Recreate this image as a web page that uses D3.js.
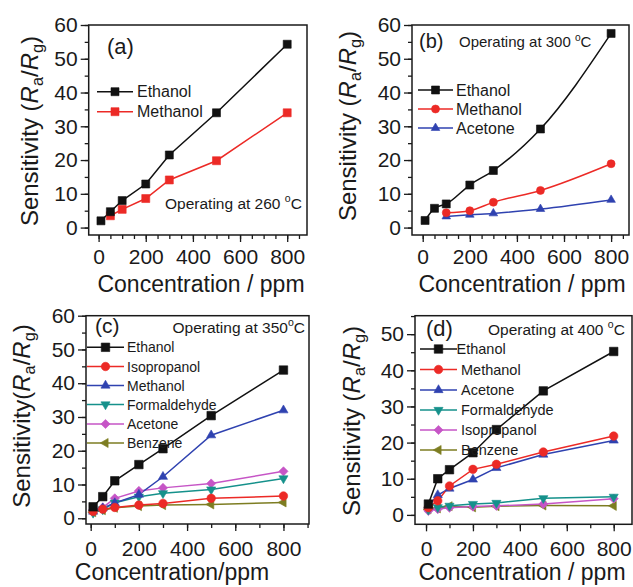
<!DOCTYPE html>
<html><head><meta charset="utf-8">
<script src="https://cdn.jsdelivr.net/npm/d3@7"></script>
<style>body{margin:0;background:#fff} svg{display:block}</style>
</head><body><svg id="c" width="633" height="587"></svg>
<script>
// ---------------- DATA ----------------
const conc = [10, 50, 100, 200, 300, 500, 800];
const concAMethanol = [50, 100, 200, 300, 500, 800];
const concBPartial = [100, 200, 300, 500, 800];
const xTickLabels = [0, 200, 400, 600, 800];
const yTickLabels60 = [0, 10, 20, 30, 40, 50, 60];
const yTickLabels50 = [0, 10, 20, 30, 40, 50];

// (a) 260 °C
const aNames = ["Ethanol", "Methanol"];
const aEthanol = [2.0, 4.7, 8.0, 12.9, 21.5, 34.0, 54.3];
const aMethanol = [3.5, 5.4, 8.6, 14.1, 19.8, 34.0];

// (b) 300 °C
const bNames = ["Ethanol", "Methanol", "Acetone"];
const bEthanol = [2.1, 5.7, 7.0, 12.6, 16.9, 29.2, 57.5];
const bMethanol = [4.4, 5.0, 7.5, 11.0, 18.9];
const bAcetone = [3.3, 3.8, 4.2, 5.5, 8.2];

// (c) 350 °C
const cNames = ["Ethanol", "Isopropanol", "Methanol", "Formaldehyde", "Acetone", "Benzene"];
const cEthanol = [3.4, 6.4, 11.1, 15.9, 20.6, 30.4, 43.9];
const cIsopropanol = [2.0, 2.7, 3.2, 3.9, 4.4, 5.9, 6.6];
const cMethanol = [2.0, 3.0, 4.5, 7.0, 12.3, 24.6, 32.0];
const cFormaldehyde = [1.6, 2.6, 4.6, 6.4, 7.4, 8.5, 11.8];
const cAcetone = [2.5, 3.2, 5.9, 8.1, 9.0, 10.3, 13.9];
const cBenzene = [1.8, 2.4, 3.1, 3.6, 3.9, 4.1, 4.7];

// (d) 400 °C
const dNames = ["Ethanol", "Methanol", "Acetone", "Formaldehyde", "Isopropanol", "Benzene"];
const dEthanol = [3.0, 10.0, 12.5, 17.2, 23.6, 34.3, 45.2];
const dMethanol = [2.0, 3.9, 8.0, 12.6, 14.0, 17.4, 21.8];
const dAcetone = [2.5, 5.5, 7.3, 9.8, 13.0, 16.7, 20.6];
const dFormaldehyde = [1.4, 2.1, 2.5, 3.0, 3.3, 4.6, 5.0];
const dIsopropanol = [1.1, 1.6, 2.0, 2.3, 2.5, 3.0, 4.5];
const dBenzene = [1.5, 1.8, 2.4, 2.1, 2.4, 2.6, 2.5];

// ---------------- STYLE ----------------
const FONT = '"Liberation Sans", Arial, Helvetica, sans-serif';
const COL = {black:"#111111", red:"#ec2a26", blue:"#2f42b0", teal:"#15918b", magenta:"#c655c6", olive:"#7d7d22"};
const svg = d3.select("#c").style("font-family", FONT);

function zipS(xs, ys){ return xs.map((x,i)=>({x, y: ys[i]})); }

function shapeOf(shape, s){
  switch(shape){
    case "square":  return {d: d3.symbol(d3.symbolSquare, s*s)(), r: 0};
    case "circle":  return {d: d3.symbol(d3.symbolCircle, Math.PI*(s/2)*(s/2))(), r: 0};
    case "up":      return {d: d3.symbol(d3.symbolTriangle, s*s*0.5)(), r: 0};
    case "down":    return {d: d3.symbol(d3.symbolTriangle, s*s*0.5)(), r: 180};
    case "left":    return {d: d3.symbol(d3.symbolTriangle, s*s*0.5)(), r: -90};
    case "diamond": return {d: d3.symbol(d3.symbolSquare, s*s*0.58)(), r: 45};
  }
}

function marker(g, shape, s, color, cx, cy){
  const sp = shapeOf(shape, s);
  g.append("path").attr("d", sp.d)
    .attr("transform", `translate(${cx},${cy}) rotate(${sp.r})`)
    .attr("fill", color).attr("stroke", color).attr("stroke-width", 0.6);
}

function range(a, b, step){ const r=[]; for(let v=a; v<=b+1e-9; v+=step) r.push(v); return r; }

function tempText(g, x, y, pre, post, size, anchor){
  const t = g.append("text").attr("x", x).attr("y", y).attr("font-size", size)
    .attr("fill", "#1a1a1a").attr("text-anchor", anchor || "start");
  t.append("tspan").text(pre);
  t.append("tspan").attr("dy", -size*0.42).attr("font-size", size*0.68).text("o");
  t.append("tspan").attr("dy", size*0.42).text(post);
}

function yTitle(g, x, y, size, space){
  const t = g.append("text").attr("transform", `translate(${x},${y}) rotate(-90)`)
    .attr("text-anchor", "middle").attr("font-size", size).attr("fill", "#1a1a1a");
  t.append("tspan").text(space ? "Sensitivity (" : "Sensitivity(");
  t.append("tspan").attr("font-style", "italic").text("R");
  t.append("tspan").attr("font-size", size*0.68).attr("dy", size*0.22).text("a");
  t.append("tspan").attr("dy", -size*0.22).text("/");
  t.append("tspan").attr("font-style", "italic").text("R");
  t.append("tspan").attr("font-size", size*0.68).attr("dy", size*0.22).text("g");
  t.append("tspan").attr("dy", -size*0.22).text(")");
}

function drawPanel(p){
  const g = svg.append("g");
  const x = d3.scaleLinear().domain(p.xd).range([p.x0, p.x1]);
  const y = d3.scaleLinear().domain(p.yd).range([p.y1, p.y0]);

  const gx1 = g.append("g").attr("transform", `translate(0,${p.y1})`)
    .call(d3.axisBottom(x).tickValues(p.xMinor).tickSize(4).tickFormat(""));
  const gx2 = g.append("g").attr("transform", `translate(0,${p.y1})`)
    .call(d3.axisBottom(x).tickValues(xTickLabels).tickSize(7).tickPadding(p.xPad).tickFormat(d3.format("d")));
  const gy1 = g.append("g").attr("transform", `translate(${p.x0},0)`)
    .call(d3.axisLeft(y).tickValues(p.yMinor).tickSize(4).tickFormat(""));
  const gy2 = g.append("g").attr("transform", `translate(${p.x0},0)`)
    .call(d3.axisLeft(y).tickValues(p.yTicks).tickSize(8).tickPadding(3).tickFormat(d3.format("d")));
  [gx1,gx2,gy1,gy2].forEach(a=>{
    a.select(".domain").remove();
    a.selectAll("line").attr("stroke", "#1a1a1a").attr("stroke-width", 1.3);
    a.selectAll("text").attr("font-family", FONT).attr("font-size", p.tickSize).attr("fill", "#1a1a1a");
  });
  gx2.selectAll("text").attr("dy", "0.71em");

  const ser = p.series.slice().reverse();
  ser.forEach(s=>{
    const pts = zipS(s.xs, s.ys);
    const line = d3.line().x(d=>x(d.x)).y(d=>y(d.y)).curve(p.curve || d3.curveLinear);
    g.append("path").attr("d", line(pts)).attr("fill", "none")
      .attr("stroke", s.color).attr("stroke-width", 1.5);
  });
  ser.forEach(s=>{
    zipS(s.xs, s.ys).forEach(d=> marker(g, s.shape, p.mSize, s.color, x(d.x), y(d.y)));
  });

  g.append("rect").attr("x", p.x0).attr("y", p.y0).attr("width", p.x1-p.x0).attr("height", p.y1-p.y0)
    .attr("fill", "none").attr("stroke", "#1a1a1a").attr("stroke-width", 1.5);

  p.series.forEach((s,i)=>{
    const ly = p.leg.y[i];
    g.append("line").attr("x1", p.leg.x1).attr("x2", p.leg.x2).attr("y1", ly).attr("y2", ly)
      .attr("stroke", s.color).attr("stroke-width", 1.5);
    marker(g, s.shape, p.mSize, s.color, (p.leg.x1+p.leg.x2)/2, ly);
    g.append("text").attr("x", p.leg.tx[i] !== undefined ? p.leg.tx[i] : p.leg.tx0).attr("y", ly)
      .attr("dy", "0.36em").attr("font-size", p.leg.size).attr("fill", "#1a1a1a").text(s.name);
  });

  g.append("text").attr("x", p.tag.x).attr("y", p.tag.y).attr("font-size", p.tag.size)
    .attr("fill", "#1a1a1a").text(p.tag.t);
  tempText(g, p.temp.x, p.temp.y, p.temp.pre, "C", p.temp.size, p.temp.anchor);
  yTitle(g, p.yt.x, p.yt.y, p.yt.size, p.yt.space);
  g.append("text").attr("x", p.xt.x).attr("y", p.xt.y).attr("text-anchor", "middle")
    .attr("font-size", p.xt.size).attr("fill", "#1a1a1a").text(p.xt.t);
}

// ---------------- PANELS ----------------
drawPanel({
  x0: 88.7, x1: 307, y0: 25, y1: 235, xd: [-42, 884], yd: [-2.2, 60],
  xMinor: range(0, 850, 50), yMinor: range(0, 60, 5), yTicks: yTickLabels60,
  xPad: 7, tickSize: 21, mSize: 8,
  series: [
    {name: aNames[0], xs: conc, ys: aEthanol, color: COL.black, shape: "square"},
    {name: aNames[1], xs: concAMethanol, ys: aMethanol, color: COL.red, shape: "square"}
  ],
  leg: {x1: 97, x2: 133, y: [91.7, 111.7], tx0: 137, tx: [], size: 16},
  tag: {x: 107, y: 54, size: 22, t: "(a)"},
  temp: {x: 165, y: 209, pre: "Operating at 260 ", size: 15.5},
  yt: {x: 38, y: 131, size: 24, space: true},
  xt: {x: 201, y: 292, size: 23, t: "Concentration / ppm"}
});

drawPanel({
  x0: 412, x1: 629, y0: 25, y1: 235, xd: [-45.5, 876], yd: [-2.2, 60],
  xMinor: range(0, 850, 50), yMinor: range(0, 60, 5), yTicks: yTickLabels60,
  xPad: 7, tickSize: 21, mSize: 8, curve: d3.curveMonotoneX,
  series: [
    {name: bNames[0], xs: conc, ys: bEthanol, color: COL.black, shape: "square"},
    {name: bNames[1], xs: concBPartial, ys: bMethanol, color: COL.red, shape: "circle"},
    {name: bNames[2], xs: concBPartial, ys: bAcetone, color: COL.blue, shape: "up"}
  ],
  leg: {x1: 418, x2: 453, y: [90, 109, 128], tx0: 456, tx: [], size: 16},
  tag: {x: 419, y: 48, size: 20, t: "(b)"},
  temp: {x: 459, y: 47, pre: "Operating at 300 ", size: 15},
  yt: {x: 356, y: 126, size: 24, space: true},
  xt: {x: 522, y: 292, size: 23, t: "Concentration / ppm"}
});

drawPanel({
  x0: 86, x1: 309, y0: 315.7, y1: 524, xd: [-19.5, 906], yd: [-1.7, 60],
  xMinor: range(0, 900, 100), yMinor: range(0, 60, 5), yTicks: yTickLabels60,
  xPad: 10, tickSize: 21, mSize: 8.5,
  series: [
    {name: cNames[0], xs: conc, ys: cEthanol, color: COL.black, shape: "square"},
    {name: cNames[1], xs: conc, ys: cIsopropanol, color: COL.red, shape: "circle"},
    {name: cNames[2], xs: conc, ys: cMethanol, color: COL.blue, shape: "up"},
    {name: cNames[3], xs: conc, ys: cFormaldehyde, color: COL.teal, shape: "down"},
    {name: cNames[4], xs: conc, ys: cAcetone, color: COL.magenta, shape: "diamond"},
    {name: cNames[5], xs: conc, ys: cBenzene, color: COL.olive, shape: "left"}
  ],
  leg: {x1: 87, x2: 124, y: [347.3, 366.5, 385.5, 404.5, 424, 443], tx0: 127, tx: [], size: 14},
  tag: {x: 95, y: 333, size: 21, t: "(c)"},
  temp: {x: 305, y: 333, pre: "Operating at 350", size: 15.5, anchor: "end"},
  yt: {x: 30, y: 416, size: 24, space: false},
  xt: {x: 172, y: 580, size: 23, t: "Concentration/ppm"}
});

drawPanel({
  x0: 415, x1: 632, y0: 315.7, y1: 524.3, xd: [-47, 878], yd: [-2.6, 55.1],
  xMinor: range(0, 800, 100), yMinor: range(0, 55, 5), yTicks: yTickLabels50,
  xPad: 10, tickSize: 21, mSize: 8.5,
  series: [
    {name: dNames[0], xs: conc, ys: dEthanol, color: COL.black, shape: "square"},
    {name: dNames[1], xs: conc, ys: dMethanol, color: COL.red, shape: "circle"},
    {name: dNames[2], xs: conc, ys: dAcetone, color: COL.blue, shape: "up"},
    {name: dNames[3], xs: conc, ys: dFormaldehyde, color: COL.teal, shape: "down"},
    {name: dNames[4], xs: conc, ys: dIsopropanol, color: COL.magenta, shape: "diamond"},
    {name: dNames[5], xs: conc, ys: dBenzene, color: COL.olive, shape: "left"}
  ],
  leg: {x1: 420, x2: 457, y: [349, 369.5, 390, 410, 430, 450], tx0: 461, tx: [456.5], size: 14.5},
  tag: {x: 426, y: 336, size: 22, t: "(d)"},
  temp: {x: 488, y: 335, pre: "Operating at 400 ", size: 15.5},
  yt: {x: 360, y: 421, size: 24, space: true},
  xt: {x: 522, y: 580, size: 23, t: "Concentration / ppm"}
});
</script>
</body></html>
